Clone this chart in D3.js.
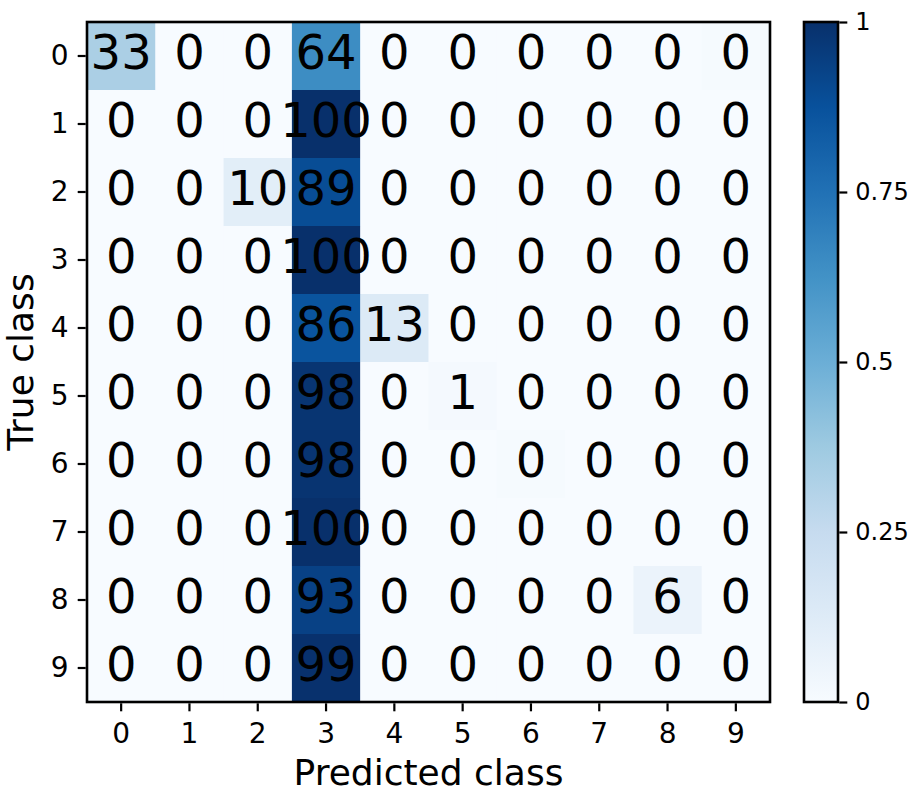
<!DOCTYPE html>
<html>
<head>
<meta charset="utf-8">
<script src="https://cdn.jsdelivr.net/npm/d3@7"></script>
<style>
  body { margin: 0; background: #fff; }
  svg text { font-family: "DejaVu Sans", sans-serif; fill: #000; }
</style>
</head>
<body>
<div id="chart"></div>
<script>
// class labels and row-normalised confusion values (percent)
const classes = ["0", "1", "2", "3", "4", "5", "6", "7", "8", "9"]
const row0 = [33.5, 0, 0, 64.5, 0, 0, 0, 0, 0, 0.9]
const row1 = [0, 0, 0, 100, 0, 0, 0, 0, 0, 0]
const row2 = [0, 0, 10.4, 89.2, 0, 0, 0, 0, 0, 0]
const row3 = [0, 0, 0, 100, 0, 0, 0, 0, 0, 0]
const row4 = [0, 0, 0, 86.5, 13.3, 0, 0, 0, 0, 0]
const row5 = [0, 0, 0, 98.2, 0, 1.5, 0, 0, 0, 0]
const row6 = [0, 0, 0, 98.5, 0, 0, 0.9, 0, 0, 0]
const row7 = [0, 0, 0, 100, 0, 0, 0, 0, 0, 0]
const row8 = [0, 0, 0, 93.4, 0, 0, 0, 0, 6.2, 0]
const row9 = [0, 0, 0, 99.5, 0, 0, 0, 0, 0, 0]
const matrix = [row0, row1, row2, row3, row4, row5, row6, row7, row8, row9]
const colorTicks = [0, 0.25, 0.5, 0.75, 1]

// matplotlib "Blues" anchors
const blues = ["#f7fbff", "#deebf7", "#c6dbef", "#9ecae1", "#6baed6", "#4292c6", "#2171b5", "#08519c", "#08306b"]

const width = 920, height = 794
const plotLeft = 87, plotRight = 770, plotTop = 22, plotBottom = 702
const cbLeft = 804, cbRight = 838

const svg = d3.select("#chart").append("svg")
    .attr("width", width)
    .attr("height", height)

const colorScale = d3.scaleLinear()
    .domain(blues.map((c, i) => i / (blues.length - 1)))
    .range(blues)
    .interpolate(d3.interpolateRgb)

const xScale = d3.scaleBand().domain(classes).range([plotLeft, plotRight]).padding(0)
const yScale = d3.scaleBand().domain(classes).range([plotTop, plotBottom]).padding(0)

// cells
matrix.forEach((row, i) => {
    row.forEach((v, j) => {
        svg.append("rect")
            .attr("x", xScale(classes[j]))
            .attr("y", yScale(classes[i]))
            .attr("width", xScale.bandwidth() + 0.5)
            .attr("height", yScale.bandwidth() + 0.5)
            .style("fill", colorScale(v / 100))
    })
})

// annotations
matrix.forEach((row, i) => {
    row.forEach((v, j) => {
        svg.append("text")
            .attr("x", xScale(classes[j]) + xScale.bandwidth() / 2)
            .attr("y", yScale(classes[i]) + yScale.bandwidth() / 2)
            .attr("dy", "0.28em")
            .attr("text-anchor", "middle")
            .style("font-size", "48px")
            .text(Math.floor(v))
    })
})

// frame
svg.append("rect")
    .attr("x", plotLeft).attr("y", plotTop)
    .attr("width", plotRight - plotLeft).attr("height", plotBottom - plotTop)
    .style("fill", "none").style("stroke", "#000").style("stroke-width", 2.6)

function styleAxis(size) {
    return g => {
        g.select(".domain").remove()
        g.selectAll(".tick line").style("stroke", "#000").style("stroke-width", 2.2)
        g.selectAll(".tick text").style("font-size", size).style("font-family", "DejaVu Sans")
    }
}

svg.append("g")
    .attr("transform", "translate(0," + (plotBottom + 1.3) + ")")
    .call(d3.axisBottom(xScale).tickSize(8).tickPadding(12))
    .call(styleAxis("28px"))

svg.append("g")
    .attr("transform", "translate(" + (plotLeft - 1.3) + ",0)")
    .call(d3.axisLeft(yScale).tickSize(8).tickPadding(9))
    .call(styleAxis("28px"))

// axis titles
svg.append("text")
    .attr("x", (plotLeft + plotRight) / 2)
    .attr("y", 785)
    .attr("text-anchor", "middle")
    .style("font-size", "36px")
    .text("Predicted class")

svg.append("text")
    .attr("transform", "translate(33," + (plotTop + plotBottom) / 2 + ") rotate(-90)")
    .attr("text-anchor", "middle")
    .style("font-size", "36px")
    .text("True class")

// colorbar
const grad = svg.append("defs").append("linearGradient")
    .attr("id", "bluesGrad")
    .attr("x1", "0%").attr("y1", "100%")
    .attr("x2", "0%").attr("y2", "0%")
blues.forEach((c, i) => {
    grad.append("stop")
        .attr("offset", (i / (blues.length - 1) * 100) + "%")
        .attr("stop-color", c)
})

svg.append("rect")
    .attr("x", cbLeft).attr("y", plotTop)
    .attr("width", cbRight - cbLeft).attr("height", plotBottom - plotTop)
    .style("fill", "url(#bluesGrad)")
    .style("stroke", "#000").style("stroke-width", 2.6)

const cbScale = d3.scaleLinear().domain([0, 1]).range([plotBottom, plotTop])
svg.append("g")
    .attr("transform", "translate(" + (cbRight + 1.3) + ",0)")
    .call(d3.axisRight(cbScale).tickValues(colorTicks).tickFormat(d => String(d)).tickSize(8).tickPadding(8))
    .call(styleAxis("24px"))
</script>
</body>
</html>
